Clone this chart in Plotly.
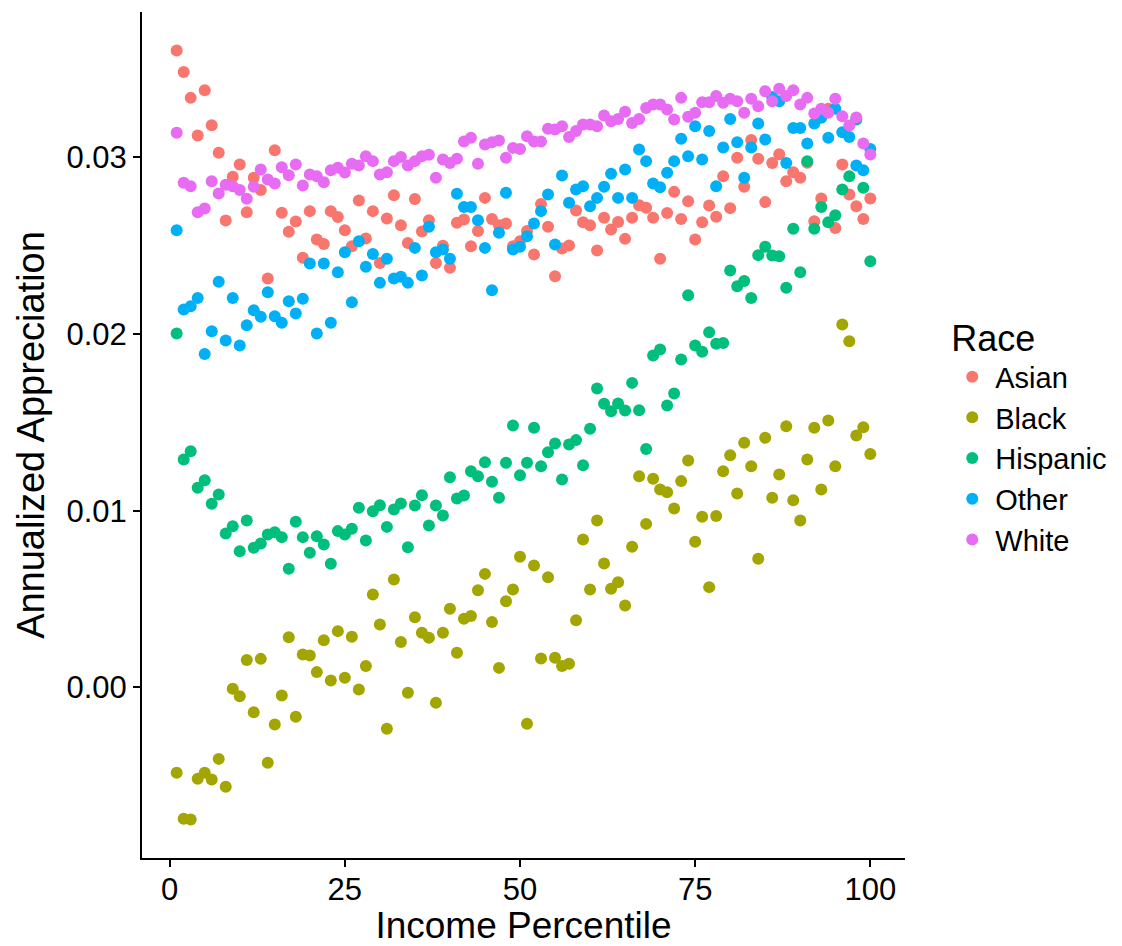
import plotly.graph_objects as go

percentile = list(range(1, 101))

asian = [0.03605, 0.03484, 0.03337, 0.03124, 0.0338, 0.03182, 0.03026, 0.02643, 0.0289, 0.0296,
         0.0269, 0.02885, 0.02815, 0.02315, 0.0304, 0.02687, 0.02579, 0.02637, 0.02432, 0.02696,
         0.02535, 0.0251, 0.02696, 0.02663, 0.02588, 0.02497, 0.02756, 0.02541, 0.02696, 0.02403,
         0.02654, 0.02786, 0.02616, 0.02516, 0.02765, 0.02581, 0.02645, 0.02403, 0.0250, 0.02375,
         0.0263, 0.02649, 0.02497, 0.02583, 0.02771, 0.02652, 0.02616, 0.02626, 0.02497, 0.02526,
         0.02583, 0.0245, 0.02737, 0.02607, 0.02328, 0.02484, 0.02501, 0.02699, 0.02633, 0.02616,
         0.02473, 0.02658, 0.02592, 0.02635, 0.02539, 0.02658, 0.02729, 0.02715, 0.02658, 0.02426,
         0.02686, 0.02805, 0.02652, 0.02752, 0.02535, 0.02633, 0.02728, 0.02664, 0.02894, 0.02713,
         0.02998, 0.02834, 0.03098, 0.02992, 0.02747, 0.02969, 0.03018, 0.02865, 0.02916, 0.02885,
         0.0297, 0.02639, 0.02767, 0.03275, 0.02601, 0.0296, 0.0279, 0.02724, 0.02652, 0.02767]

black = [-0.00483, -0.00743, -0.00747, -0.00517, -0.00483, -0.00521, -0.00404, -0.00562, -0.00007, -0.00049,
         0.00155, -0.0014, 0.00162, -0.00426, -0.00209, -0.00045, 0.00285, -0.00166, 0.00187, 0.00181,
         0.00087, 0.00268, 0.0004, 0.00319, 0.00055, 0.00287, -0.00011, 0.00121, 0.00526, 0.00357,
         -0.00234, 0.00611, 0.00257, -0.0003, 0.00398, 0.0031, 0.00281, -0.00087, 0.0031, 0.00445,
         0.00196, 0.00389, 0.00404, 0.00551, 0.00643, 0.0037, 0.00111, 0.00488, 0.00555, 0.0074,
         -0.00205, 0.0069, 0.00164, 0.00624, 0.00168, 0.00121, 0.00134, 0.00381, 0.00838, 0.00555,
         0.00945, 0.00702, 0.00559, 0.00596, 0.00464, 0.00796, 0.01196, 0.00926, 0.01181, 0.01121,
         0.01105, 0.01013, 0.01168, 0.01285, 0.00825, 0.00966, 0.00568, 0.0097, 0.01224, 0.01315,
         0.01098, 0.01385, 0.01252, 0.00728, 0.01413, 0.01074, 0.01205, 0.01479, 0.0106, 0.00945,
         0.0129, 0.0147, 0.01121, 0.01511, 0.01252, 0.02054, 0.0196, 0.01426, 0.01473, 0.01322]

hispanic = [0.02003, 0.0129, 0.01337, 0.0113, 0.01173, 0.0104, 0.01092, 0.00872, 0.00913, 0.00771,
            0.00945, 0.00791, 0.00815, 0.00866, 0.00879, 0.00851, 0.00672, 0.00938, 0.00851, 0.00762,
            0.00856, 0.00809, 0.007, 0.00885, 0.00866, 0.00898, 0.01017, 0.00832, 0.00998, 0.01032,
            0.00909, 0.01007, 0.01041, 0.00794, 0.0103, 0.01088, 0.00917, 0.0103, 0.00973, 0.0119,
            0.0107, 0.01087, 0.01224, 0.01196, 0.01275, 0.01164, 0.01074, 0.01272, 0.01483, 0.01201,
            0.01272, 0.0147, 0.01252, 0.01332, 0.01381, 0.01177, 0.01375, 0.014, 0.01258, 0.01465,
            0.01692, 0.01606, 0.01564, 0.01607, 0.01568, 0.01724, 0.01569, 0.0135, 0.01879, 0.01913,
            0.01596, 0.01664, 0.01856, 0.0222, 0.01935, 0.019, 0.02011, 0.01945, 0.0195, 0.0236,
            0.02271, 0.023, 0.02205, 0.02447, 0.02494, 0.02445, 0.02441, 0.02262, 0.02596, 0.0235,
            0.02979, 0.02596, 0.0272, 0.02633, 0.02673, 0.02818, 0.02894, 0.03214, 0.02828, 0.02413]

other = [0.02588, 0.02139, 0.02158, 0.02205, 0.01888, 0.02016, 0.02296, 0.01964, 0.02205, 0.01935,
         0.0205, 0.02135, 0.02098, 0.02237, 0.02101, 0.02064, 0.02186, 0.02117, 0.022, 0.024,
         0.02003, 0.024, 0.02064, 0.0235, 0.02463, 0.0218, 0.02526, 0.02381, 0.02454, 0.0229,
         0.02426, 0.02315, 0.02324, 0.0229, 0.02488, 0.02332, 0.02607, 0.02463, 0.02479, 0.02426,
         0.02794, 0.0272, 0.0272, 0.02645, 0.02488, 0.02248, 0.02573, 0.028, 0.02479, 0.02494,
         0.02554, 0.02626, 0.02696, 0.0279, 0.02507, 0.02898, 0.02743, 0.02818, 0.02837, 0.02724,
         0.02771, 0.02834, 0.02907, 0.02771, 0.02932, 0.02771, 0.03045, 0.02979, 0.02852, 0.02831,
         0.02913, 0.02979, 0.03105, 0.03007, 0.03177, 0.02988, 0.03149, 0.02837, 0.03056, 0.03218,
         0.03086, 0.02885, 0.03056, 0.03192, 0.03101, 0.03342, 0.03318, 0.02969, 0.03167, 0.03167,
         0.03079, 0.03192, 0.03224, 0.03111, 0.03275, 0.03143, 0.03116, 0.02954, 0.02928, 0.03048]

white = [0.03139, 0.02856, 0.02837, 0.0269, 0.02711, 0.02865, 0.02796, 0.02845, 0.02837, 0.02815,
         0.02766, 0.02834, 0.02932, 0.02875, 0.02852, 0.02945, 0.02899, 0.0296, 0.02841, 0.02903,
         0.02894, 0.0286, 0.02928, 0.02941, 0.02914, 0.02964, 0.02954, 0.03007, 0.02979, 0.02903,
         0.02916, 0.02979, 0.03003, 0.02954, 0.02979, 0.03007, 0.03015, 0.02885, 0.02988, 0.02969,
         0.02992, 0.0309, 0.03111, 0.02964, 0.03073, 0.03086, 0.03096, 0.02998, 0.03054, 0.03048,
         0.0312, 0.0309, 0.0309, 0.03162, 0.03158, 0.03177, 0.03116, 0.03149, 0.03186, 0.03186,
         0.03177, 0.03237, 0.03205, 0.03218, 0.03258, 0.03195, 0.03218, 0.0328, 0.03299, 0.03299,
         0.03271, 0.03214, 0.03337, 0.0323, 0.03253, 0.03312, 0.03312, 0.03347, 0.03309, 0.03332,
         0.03318, 0.03253, 0.03332, 0.0329, 0.03375, 0.03318, 0.03388, 0.03347, 0.0338, 0.03299,
         0.03337, 0.03249, 0.03275, 0.03253, 0.03332, 0.03233, 0.0318, 0.03226, 0.03079, 0.03016]

races = ["Asian", "Black", "Hispanic", "Other", "White"]
series = [asian, black, hispanic, other, white]
colors = ["#F8766D", "#A3A500", "#00BF7D", "#00B0F6", "#E76BF3"]

x_ticks = [0, 25, 50, 75, 100]
y_ticks = [0.0, 0.01, 0.02, 0.03]
y_ticklabels = ["0.00", "0.01", "0.02", "0.03"]

fig = go.Figure()
for name, vals, col in zip(races, series, colors):
    fig.add_trace(go.Scatter(
        x=percentile, y=vals, mode="markers", name=name,
        marker=dict(color=col, size=12, line=dict(width=0)),
    ))

font_family = "Liberation Sans, Arial, sans-serif"
fig.update_layout(
    width=1122, height=946,
    margin=dict(l=142, r=217, t=12, b=88, autoexpand=False),
    paper_bgcolor="white", plot_bgcolor="white",
    font=dict(family=font_family, color="black", size=30),
    showlegend=True,
    legend=dict(
        title=dict(text="Race", font=dict(size=36)),
        font=dict(size=29),
        x=1.058, xanchor="left", y=0.5, yanchor="middle",
        itemsizing="constant", itemwidth=36,
        tracegroupgap=0,
    ),
    xaxis=dict(
        range=[-3.95, 104.95], tickvals=x_ticks, ticktext=[str(t) for t in x_ticks],
        showgrid=False, zeroline=False, showline=True, linecolor="black", linewidth=2,
        ticks="outside", ticklen=7, tickwidth=2, tickcolor="black",
        tickfont=dict(size=31), automargin=True, ticklabelstandoff=-4,
        title=dict(text="Income Percentile", font=dict(size=37), standoff=6),
    ),
    yaxis=dict(
        range=[-0.00965, 0.03823], tickvals=y_ticks, ticktext=y_ticklabels,
        showgrid=False, zeroline=False, showline=True, linecolor="black", linewidth=2,
        ticks="outside", ticklen=7, tickwidth=2, tickcolor="black",
        tickfont=dict(size=31), automargin=True,
        title=dict(text="Annualized Appreciation", font=dict(size=38), standoff=10),
    ),
)

fig.write_html("out.html")
